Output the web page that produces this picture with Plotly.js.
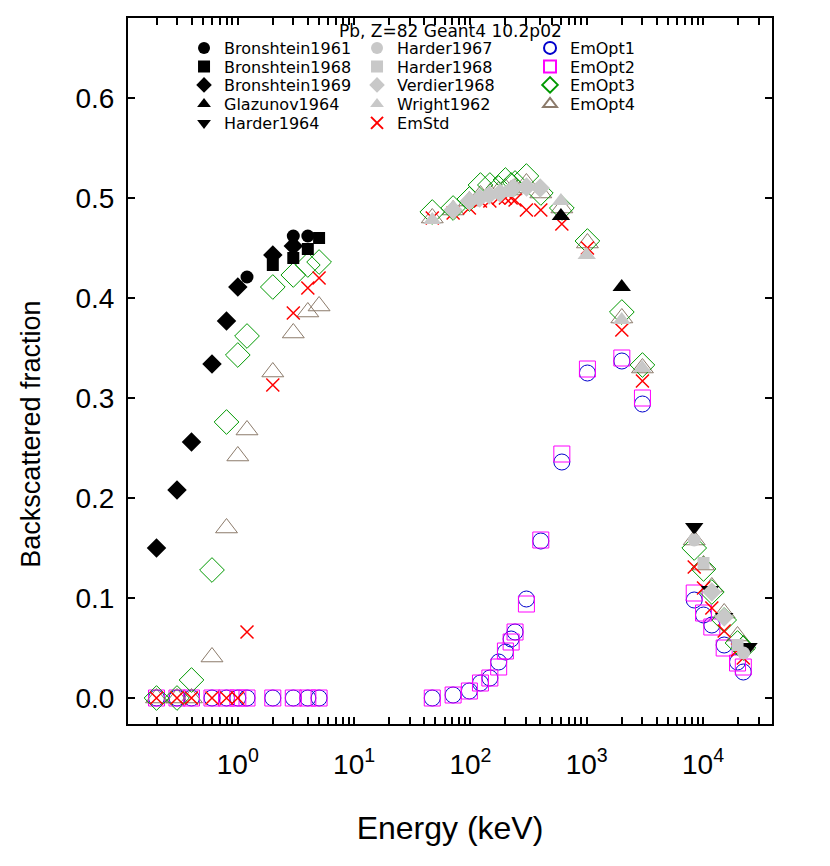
<!DOCTYPE html>
<html>
<head>
<meta charset="utf-8">
<script src="https://cdn.plot.ly/plotly-3.0.1.min.js"></script>
<style>
  html, body { margin: 0; padding: 0; background: #fff; }
  #chart { width: 830px; height: 866px; }
</style>
</head>
<body>
<div id="chart"></div>
<script>
// Pb, Z=82 - backscattered fraction vs energy (keV)

// simulation energies (keV)
const simE = [0.2, 0.3, 0.4, 0.6, 0.8, 1.0, 1.2, 2, 3, 4, 5,
  47, 71, 98, 122, 147, 175, 200, 224, 242, 303, 403, 611, 1014, 2004, 3014,
  8400, 10100, 11900, 15200, 19800, 22200];

const emOpt1 = [0, 0, 0, 0, 0, 0, 0, 0, 0, 0, 0,
  0.0, 0.003, 0.007, 0.015, 0.020, 0.036, 0.046, 0.059, 0.066, 0.099, 0.157, 0.236, 0.325, 0.337, 0.294,
  0.098, 0.083, 0.073, 0.053, 0.036, 0.026];
const emOpt2 = [0, 0, 0, 0, 0, 0, 0, 0, 0, 0, 0,
  0.0, 0.003, 0.007, 0.015, 0.020, 0.031, 0.047, 0.056, 0.066, 0.094, 0.158, 0.244, 0.329, 0.340, 0.300,
  0.105, 0.085, 0.071, 0.050, 0.035, 0.031];
const emOpt3 = [0, 0, 0.018, 0.128, 0.276, 0.343, 0.362, 0.411, 0.423, 0.433, 0.436,
  0.486, 0.490, 0.499, 0.513, 0.513, 0.510, 0.518, 0.513, 0.515, 0.522, 0.505, 0.490, 0.457, 0.386, 0.333,
  0.150, 0.129, 0.106, 0.078, 0.055, 0.050];
const emOpt4 = [0, 0, 0, 0.041, 0.170, 0.242, 0.268, 0.326, 0.365, 0.386, 0.392,
  0.480, 0.488, 0.497, 0.503, 0.505, 0.507, 0.510, 0.508, 0.510, 0.515, 0.505, 0.490, 0.455, 0.380, 0.330,
  0.158, 0.133, 0.111, 0.085, 0.062, 0.053];
const emStd = [0, 0, 0, 0, 0, 0, 0.066, 0.313, 0.385, 0.410, 0.420,
  0.480, 0.485, 0.490, 0.497, 0.497, 0.500, 0.500, 0.500, 0.498, 0.488, 0.488, 0.474, 0.450, 0.368, 0.317,
  0.131, 0.110, 0.090, 0.067, 0.048, 0.040];

// experimental data
const bron1961E = [1.2, 3, 4];
const bron1961 = [0.421, 0.462, 0.462];
const bron1968E = [2, 3, 4, 5];
const bron1968 = [0.433, 0.440, 0.449, 0.460];
const bron1969E = [0.2, 0.3, 0.4, 0.6, 0.8, 1.0, 2, 3];
const bron1969 = [0.150, 0.208, 0.256, 0.334, 0.377, 0.411, 0.443, 0.452];
const glaz1964E = [600, 2000];
const glaz1964 = [0.482, 0.411];
const harder1964E = [8400, 11500, 15200, 24600];
const harder1964 = [0.171, 0.108, 0.081, 0.051];
const harder1967E = [8400, 22300];
const harder1967 = [0.158, 0.045];
const harder1968E = [10100, 19800];
const harder1968 = [0.135, 0.053];
const verdier1968E = [71, 98, 120, 145, 180, 234, 304, 398, 11900, 15200];
const verdier1968 = [0.488, 0.497, 0.500, 0.503, 0.505, 0.510, 0.511, 0.510, 0.106, 0.081];
const wright1962E = [47, 100, 200, 600, 1000, 2000, 3000];
const wright1962 = [0.478, 0.498, 0.505, 0.497, 0.443, 0.378, 0.330];

// x tick labels
const xTickVals = [1, 10, 100, 1000, 10000];
const xTickText = ['10<sup>0</sup>', '10<sup>1</sup>', '10<sup>2</sup>', '10<sup>3</sup>', '10<sup>4</sup>'];

const FONT = 'Liberation Sans, Arial, Helvetica, sans-serif';
const LFONT = 'DejaVu Sans, Liberation Sans, sans-serif';
const GREY = '#c8c8c8';

function sim(name, x, y, symbol, color, size, lw, legend, rank) {
  return {
    x: x, y: y, name: name, type: 'scatter', mode: 'markers',
    marker: {symbol: symbol, size: size, color: color, line: {color: color, width: lw}},
    legend: legend, legendrank: rank
  };
}
function exp(name, x, y, symbol, color, size, legend, rank) {
  return {
    x: x, y: y, name: name, type: 'scatter', mode: 'markers',
    marker: {symbol: symbol, size: size, color: color, line: {width: 0}},
    legend: legend, legendrank: rank
  };
}

const data = [
  sim('EmOpt1', simE, emOpt1, 'circle-open', '#0000cc', 16, 1, 'legend', 3),
  sim('EmOpt2', simE, emOpt2, 'square-open', '#ff00ff', 16, 1, 'legend2', 3),
  sim('EmOpt4', simE, emOpt4, 'triangle-up-open', '#8c7b6b', 19, 1, 'legend4', 3),
  sim('EmOpt3', simE, emOpt3, 'diamond-open', '#009900', 19, 1, 'legend3', 3),
  sim('EmStd', simE, emStd, 'x-thin-open', '#ff0000', 13, 1.5, 'legend5', 2),
  exp('Bronshtein1961', bron1961E, bron1961, 'circle', '#000', 13, 'legend', 1),
  exp('Bronshtein1968', bron1968E, bron1968, 'square', '#000', 12, 'legend2', 1),
  exp('Bronshtein1969', bron1969E, bron1969, 'diamond', '#000', 15, 'legend3', 1),
  exp('Glazunov1964', glaz1964E, glaz1964, 'triangle-up', '#000', 16, 'legend4', 1),
  exp('Harder1964', harder1964E, harder1964, 'triangle-down', '#000', 16, 'legend5', 1),
  exp('Harder1967', harder1967E, harder1967, 'circle', GREY, 13, 'legend', 2),
  exp('Harder1968', harder1968E, harder1968, 'square', GREY, 12, 'legend2', 2),
  exp('Verdier1968', verdier1968E, verdier1968, 'diamond', GREY, 15, 'legend3', 2),
  exp('Wright1962', wright1962E, wright1962, 'triangle-up', GREY, 16, 'legend4', 2)
];

// one horizontal legend per row so rows can sit tight like the original
function row(y) {
  return {
    orientation: 'h', x: 0.087, xanchor: 'left', y: y, yanchor: 'middle',
    entrywidth: 128, entrywidthmode: 'pixels',
    bgcolor: 'rgba(0,0,0,0)', borderwidth: 0,
    font: {family: LFONT, size: 16, color: '#000'},
    itemsizing: 'constant', itemclick: false, itemdoubleclick: false
  };
}

const layout = {
  width: 830, height: 866,
  margin: {l: 128, r: 58, t: 18, b: 142},
  paper_bgcolor: '#fff', plot_bgcolor: '#fff',
  font: {family: FONT, color: '#000'},
  showlegend: true,
  legend: row(0.9575),
  legend2: row(0.9313),
  legend3: row(0.9051),
  legend4: row(0.8782),
  legend5: row(0.8513),
  xaxis: {
    type: 'log', range: [-0.944, 4.593],
    tickvals: xTickVals, ticktext: xTickText,
    ticks: 'inside', ticklen: 7, tickwidth: 2, tickcolor: '#000',
    minor: {dtick: 'D1', ticks: 'inside', ticklen: 7, tickwidth: 2, tickcolor: '#000', showgrid: false},
    showline: true, linewidth: 2, linecolor: '#000', mirror: 'allticks',
    showgrid: false, zeroline: false,
    tickfont: {family: FONT, size: 28},
    ticklabelstandoff: 14,
    title: {text: 'Energy (keV)', font: {family: FONT, size: 32}, standoff: 38}
  },
  yaxis: {
    range: [-0.026, 0.68],
    dtick: 0.1, tick0: 0, tickformat: '.1f',
    ticks: 'inside', ticklen: 7, tickwidth: 2, tickcolor: '#000',
    showline: true, linewidth: 2, linecolor: '#000', mirror: 'ticks',
    showgrid: false, zeroline: false,
    tickfont: {family: FONT, size: 28},
    ticklabelstandoff: 6
  },
  annotations: [{
    text: 'Pb, Z=82 Geant4 10.2p02', xref: 'paper', yref: 'paper',
    x: 0.5, y: 0.9816, xanchor: 'center', yanchor: 'middle', showarrow: false,
    font: {family: LFONT, size: 17, color: '#000'}
  }, {
    // y title sits lower than the axis middle in the original
    text: 'Backscattered fraction', xref: 'paper', yref: 'paper',
    x: -0.152, y: 0.41, xanchor: 'center', yanchor: 'middle', textangle: -90, showarrow: false,
    font: {family: FONT, size: 27, color: '#000'}
  }]
};

Plotly.newPlot('chart', data, layout, {displayModeBar: false, staticPlot: true});
</script>
</body>
</html>
